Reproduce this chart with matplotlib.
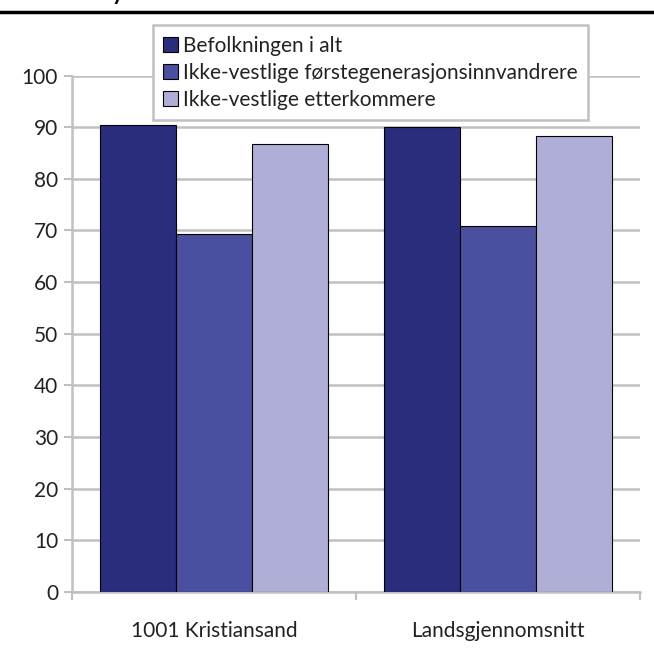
import matplotlib
matplotlib.use("Agg")
import matplotlib.pyplot as plt
import numpy as np

kategorier = ["1001 Kristiansand", "Landsgjennomsnitt"]
serier = ["Befolkningen i alt",
          "Ikke-vestlige førstegenerasjonsinnvandrere",
          "Ikke-vestlige etterkommere"]
befolkning = [90.5, 90.1]
forstegen = [69.4, 70.8]
etterkommere = [86.8, 88.2]
farger = ["#2a2d7b", "#4b4f9f", "#afaed6"]

plt.rcParams['font.family'] = ['Lato', 'DejaVu Sans']
FS = 15

fig = plt.figure(figsize=(6.54, 6.48), dpi=100)
ax = fig.add_axes([0.110, 0.0864, 0.869, 0.797])

x = np.arange(len(kategorier))
b = 0.268
for i, (vals, navn) in enumerate(zip([befolkning, forstegen, etterkommere], serier)):
    ax.bar(x + (i - 1) * b, vals, width=b, color=farger[i], edgecolor="black",
           linewidth=0.8, label=navn, zorder=3)

ax.set_xlim(-0.5, 1.5)
ax.set_ylim(0, 100)
ax.set_yticks(range(0, 101, 10))
ax.set_xticks([-0.5, 0.5, 1.5])
ax.set_xticklabels([])
ax.set_xticks(x, minor=True)
ax.set_xticklabels(kategorier, minor=True)
ax.tick_params(axis="x", which="minor", length=0, pad=21, labelsize=FS, labelcolor="#222222")
ax.tick_params(axis="x", which="major", length=6, color="#c0c0c0", width=1.5)
ax.tick_params(axis="y", length=6, color="#c0c0c0", width=1.5, labelsize=FS,
               labelcolor="#222222", pad=4)

ax.grid(axis="y", color="#c0c0c0", linewidth=1.8, zorder=0)
for s in ["top", "right"]:
    ax.spines[s].set_visible(False)
for s in ["left", "bottom"]:
    ax.spines[s].set_color("#c0c0c0")
    ax.spines[s].set_linewidth(1.8)

leg = ax.legend(loc="upper left", bbox_to_anchor=(0.1426, 1.097), frameon=True,
                fancybox=False, edgecolor="#c0c0c0", framealpha=1, fontsize=FS,
                handlelength=0.7, handleheight=0.7, handletextpad=0.25,
                labelspacing=0.33, borderpad=0.5, borderaxespad=0)
leg.get_frame().set_linewidth(1.8)
for t in leg.get_texts():
    t.set_color("#222222")

fig.add_artist(plt.Line2D([0, 1], [1 - 12 / 648, 1 - 12 / 648], color="black",
                          linewidth=2.5, transform=fig.transFigure))
fig.text(0.171, 1.0, "y", fontsize=16, fontweight="bold", va="baseline")

fig.savefig("out.png", dpi=100)
